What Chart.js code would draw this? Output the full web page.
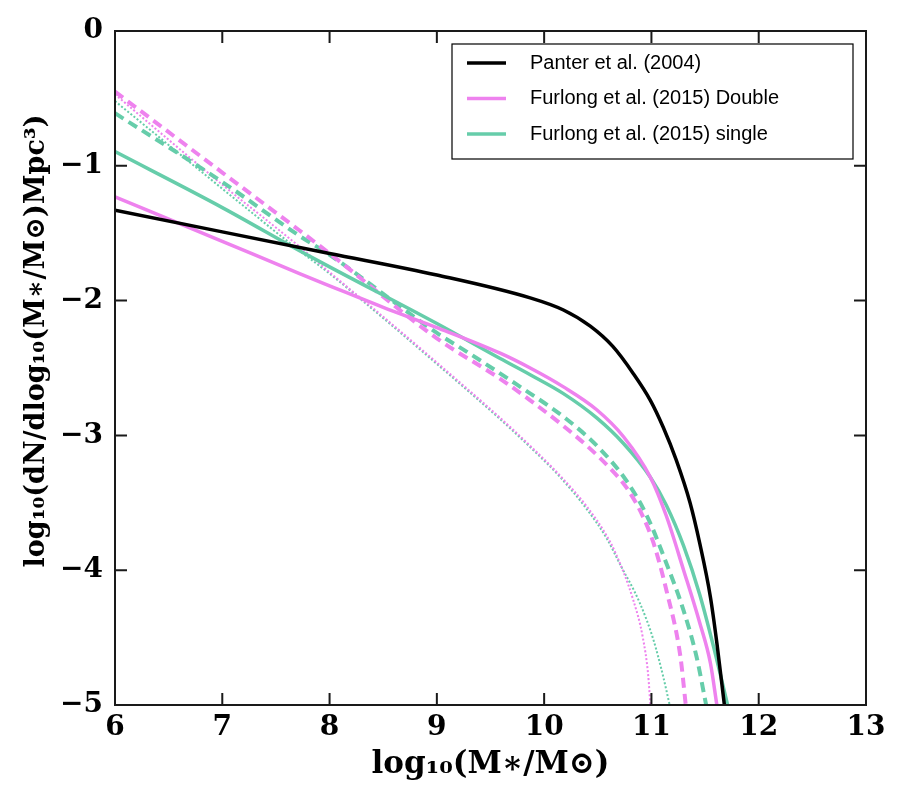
<!DOCTYPE html>
<html>
<head>
<meta charset="utf-8">
<script src="https://cdn.jsdelivr.net/npm/chart.js@4.4.1/dist/chart.umd.min.js"></script>
<style>
  body { margin: 0; background: #fff; }
  #wrap { width: 900px; height: 800px; }
</style>
</head>
<body>
<div id="wrap"><canvas id="smf" width="900" height="800"></canvas></div>
<script>
// values: log10(M*/Msun) and log10(dN/dlog10 M / Mpc^3)
const panterX = [6, 7, 8, 9, 9.87, 10.18, 10.43, 10.64, 10.83, 10.99, 11.11, 11.23, 11.36, 11.45, 11.55, 11.61, 11.68];
const panterY = [-1.33, -1.49, -1.65, -1.81, -1.98, -2.07, -2.19, -2.34, -2.54, -2.74, -2.94, -3.18, -3.50, -3.80, -4.20, -4.54, -5.0];

const doubleX = [6, 7, 7.72, 8, 8.5, 9, 9.59, 9.87, 10.18, 10.49, 10.74, 10.99, 11.14, 11.30, 11.45, 11.55, 11.61];
const doubleY = [-1.23, -1.56, -1.80, -1.89, -2.05, -2.20, -2.39, -2.50, -2.64, -2.81, -3.01, -3.31, -3.60, -4.00, -4.39, -4.69, -5.0];

const singleX = [6, 7, 7.72, 8, 9, 9.59, 9.87, 10.18, 10.49, 10.74, 10.99, 11.14, 11.30, 11.45, 11.58, 11.71];
const singleY = [-0.895, -1.31, -1.63, -1.75, -2.17, -2.43, -2.55, -2.69, -2.87, -3.06, -3.31, -3.52, -3.82, -4.18, -4.57, -5.0];

const doubleDashX = [6, 7, 7.72, 8, 9, 9.59, 9.87, 10.18, 10.43, 10.61, 10.77, 10.92, 11.02, 11.14, 11.27, 11.32];
const doubleDashY = [-0.45, -1.05, -1.48, -1.65, -2.28, -2.58, -2.74, -2.93, -3.10, -3.24, -3.39, -3.60, -3.80, -4.15, -4.64, -5.0];

const singleDashX = [6, 7, 7.72, 8, 9, 9.28, 9.74, 10.21, 10.52, 10.77, 10.96, 11.14, 11.30, 11.42, 11.51];
const singleDashY = [-0.61, -1.12, -1.52, -1.66, -2.24, -2.38, -2.62, -2.88, -3.10, -3.34, -3.60, -3.95, -4.30, -4.64, -5.0];

const doubleDotX = [6, 7, 7.72, 8, 8.5, 9, 9.59, 9.90, 10.15, 10.40, 10.58, 10.67, 10.83, 10.92, 10.97, 10.99];
const doubleDotY = [-0.47, -1.14, -1.60, -1.79, -2.12, -2.46, -2.87, -3.10, -3.30, -3.53, -3.74, -3.88, -4.22, -4.50, -4.78, -5.0];

const singleDotX = [6, 7, 7.72, 8, 8.5, 9, 9.59, 9.90, 10.15, 10.40, 10.58, 10.71, 10.89, 11.02, 11.11, 11.17];
const singleDotY = [-0.52, -1.17, -1.63, -1.80, -2.13, -2.47, -2.88, -3.11, -3.31, -3.55, -3.76, -3.96, -4.24, -4.52, -4.79, -5.0];

const xTicks = [6, 7, 8, 9, 10, 11, 12, 13];
const yTicks = [0, -1, -2, -3, -4, -5];

const BLACK = '#000000';
const VIOLET = '#ee82ee';
const AQUA = '#66cdaa';

function pts(xs, ys) {
  return xs.map((x, i) => ({ x: x, y: ys[i] }));
}

function line(label, xs, ys, color, width, dash, inLegend) {
  return {
    label: label,
    data: pts(xs, ys),
    borderColor: color,
    backgroundColor: color,
    borderWidth: width,
    borderDash: dash,
    showLine: true,
    pointRadius: 0,
    cubicInterpolationMode: 'monotone',
    inLegend: inLegend
  };
}

const serif = '"DejaVu Serif", "Liberation Serif", serif';

// inward ticks on all four sides plus the frame
const frameTicks = {
  id: 'frameTicks',
  afterDatasetsDraw(chart) {
    const { ctx, chartArea: a, scales } = chart;
    const len = 12;
    ctx.save();
    ctx.strokeStyle = '#1a1a1a';
    ctx.lineWidth = 2;
    ctx.beginPath();
    xTicks.forEach(v => {
      const px = scales.x.getPixelForValue(v);
      ctx.moveTo(px, a.bottom); ctx.lineTo(px, a.bottom - len);
      ctx.moveTo(px, a.top); ctx.lineTo(px, a.top + len);
    });
    yTicks.forEach(v => {
      const py = scales.y.getPixelForValue(v);
      ctx.moveTo(a.left, py); ctx.lineTo(a.left + len, py);
      ctx.moveTo(a.right, py); ctx.lineTo(a.right - len, py);
    });
    ctx.stroke();
    ctx.strokeRect(a.left, a.top, a.right - a.left, a.bottom - a.top);
    ctx.restore();
  }
};

// matplotlib-style boxed legend in the upper right of the plot
const boxLegend = {
  id: 'boxLegend',
  afterDraw(chart) {
    const { ctx, chartArea: a } = chart;
    const items = chart.data.datasets.filter(d => d.inLegend);
    const w = 401, h = 115;
    const left = a.right - 13 - w, top = a.top + 13;
    ctx.save();
    ctx.fillStyle = '#fff';
    ctx.fillRect(left, top, w, h);
    ctx.strokeStyle = '#000';
    ctx.lineWidth = 1.2;
    ctx.strokeRect(left, top, w, h);
    ctx.font = '20px "Liberation Sans", Arial, sans-serif';
    ctx.textBaseline = 'middle';
    items.forEach((d, i) => {
      const y = top + 19 + i * 35.5;
      ctx.strokeStyle = d.borderColor;
      ctx.lineWidth = 3.5;
      ctx.setLineDash([]);
      ctx.beginPath();
      ctx.moveTo(left + 15, y);
      ctx.lineTo(left + 54, y);
      ctx.stroke();
      ctx.fillStyle = '#000';
      ctx.fillText(d.label, left + 78, y);
    });
    ctx.restore();
  }
};

new Chart(document.getElementById('smf'), {
  type: 'scatter',
  data: {
    datasets: [
      line('Panter et al. (2004)', panterX, panterY, BLACK, 3.5, [], true),
      line('Furlong et al. (2015) Double', doubleX, doubleY, VIOLET, 3.5, [], true),
      line('Furlong et al. (2015) single', singleX, singleY, AQUA, 3.5, [], true),
      line('Double (dashed)', doubleDashX, doubleDashY, VIOLET, 4, [10, 6], false),
      line('single (dashed)', singleDashX, singleDashY, AQUA, 4, [10, 6], false),
      line('Double (dotted)', doubleDotX, doubleDotY, VIOLET, 2, [2, 2], false),
      line('single (dotted)', singleDotX, singleDotY, AQUA, 2, [2, 2], false)
    ]
  },
  options: {
    responsive: false,
    animation: false,
    layout: { padding: { top: 31, right: 34, left: 0, bottom: 0 } },
    plugins: {
      legend: { display: false },
      tooltip: { enabled: false }
    },
    scales: {
      x: {
        type: 'linear',
        min: 6,
        max: 13,
        afterFit: s => { s.height = 95; },
        afterBuildTicks: s => { s.ticks = xTicks.map(v => ({ value: v })); },
        grid: { display: false, drawTicks: false },
        border: { display: false },
        ticks: {
          padding: 6,
          color: '#000',
          font: { family: serif, size: 28, weight: 'bold' },
          maxRotation: 0
        },
        title: {
          display: true,
          text: 'log\u2081\u2080(M\u2217/M\u2299)',
          color: '#000',
          font: { family: serif, size: 31, weight: 'bold' },
          padding: { top: 0, bottom: 16 }
        }
      },
      y: {
        type: 'linear',
        min: -5,
        max: 0,
        afterFit: s => { s.width = 115; },
        afterBuildTicks: s => { s.ticks = yTicks.map(v => ({ value: v })); },
        grid: { display: false, drawTicks: false },
        border: { display: false },
        ticks: {
          padding: 12,
          color: '#000',
          font: { family: serif, size: 28, weight: 'bold' },
          callback: v => (v < 0 ? '\u2212' + Math.abs(v) : String(v))
        },
        title: {
          display: true,
          // leading em spaces push the label up a little, as in the original
          text: '\u2003\u2003log\u2081\u2080(dN/dlog\u2081\u2080(M\u2217/M\u2299)Mpc\u00b3)',
          color: '#000',
          font: { family: serif, size: 27, weight: 'bold' },
          padding: { top: 21, bottom: 0 }
        }
      }
    }
  },
  plugins: [frameTicks, boxLegend]
});
</script>
</body>
</html>
